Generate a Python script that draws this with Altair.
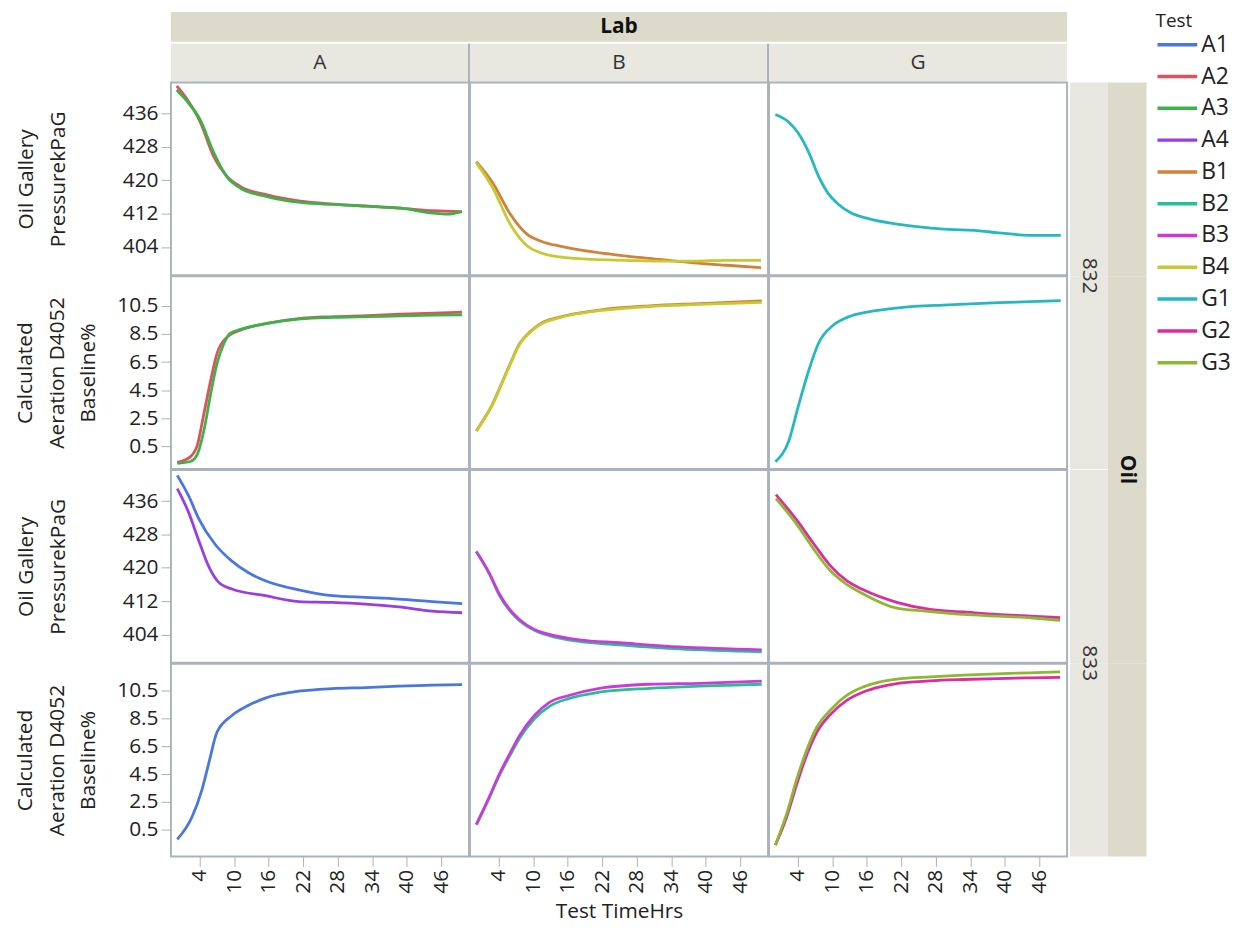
import altair as alt
import pandas as pd

# ---------------- data ----------------
TESTS = ["A1", "A2", "A3", "A4", "B1", "B2", "B3", "B4", "G1", "G2", "G3"]
COLORS = ["#4a76e0", "#e0525a", "#3cb34a", "#9b3ee0", "#d2803a", "#26c08e",
          "#cc3adc", "#c8c832", "#25b8c0", "#dd2c9e", "#8cb832"]
LABS = ["A", "B", "G"]
OILS = ["832", "833"]
TEST_LAB = {"A1": "A", "A2": "A", "A3": "A", "A4": "A", "B1": "B", "B2": "B",
            "B3": "B", "B4": "B", "G1": "G", "G2": "G", "G3": "G"}
TEST_OIL = {"A2": "832", "A3": "832", "B1": "832", "B4": "832", "G1": "832",
            "A1": "833", "A4": "833", "B2": "833", "B3": "833", "G2": "833", "G3": "833"}

X_TICKS = [4, 10, 16, 22, 28, 34, 40, 46]
P_TICKS = [404, 412, 420, 428, 436]
A_TICKS = [0.5, 2.5, 4.5, 6.5, 8.5, 10.5]

# Oil Gallery Pressure kPaG
A2_P_T = [0.0, 1.8, 4.1, 6.4, 8.8, 11.1, 15.7, 21.5, 27.3, 33.1, 38.9, 44.7, 49.6]
A2_P_V = [442.7, 439.5, 434.0, 425.8, 420.9, 418.5, 416.5, 415.0, 414.3, 413.8, 413.3, 412.7, 412.5]
A3_P_T = [0.0, 1.8, 4.1, 6.4, 8.8, 11.1, 15.7, 21.5, 27.3, 33.1, 38.9, 44.7, 47.0, 49.6]
A3_P_V = [441.7, 439.0, 434.5, 426.8, 420.7, 418.1, 416.1, 414.7, 414.2, 413.8, 413.3, 412.1, 411.9, 412.5]
B1_P_T = [0.1, 3.0, 5.9, 8.8, 11.7, 14.6, 20.4, 26.2, 32.0, 37.8, 43.6, 49.6]
B1_P_V = [424.5, 419.3, 412.1, 407.2, 405.2, 404.2, 402.8, 401.8, 401.0, 400.2, 399.6, 399.0]
B4_P_T = [0.1, 3.0, 5.9, 8.8, 11.7, 14.6, 20.4, 26.2, 32.0, 37.8, 43.6, 49.6]
B4_P_V = [424.2, 418.1, 409.7, 404.4, 402.4, 401.6, 401.0, 400.8, 400.6, 400.6, 400.8, 400.8]
G1_P_T = [0.1, 2.4, 4.1, 5.9, 7.6, 9.3, 11.1, 13.2, 16.3, 21.5, 25.9, 30.2, 34.6, 38.9, 44.1, 49.7]
G1_P_V = [435.8, 434.0, 431.3, 426.7, 421.0, 416.8, 414.2, 412.2, 410.8, 409.4, 408.7, 408.2, 408.0, 407.4, 406.8, 406.8]
A1_P_T = [0.1, 2.1, 3.8, 6.7, 9.6, 12.5, 15.4, 21.2, 27.0, 32.8, 38.6, 44.4, 49.6]
A1_P_V = [442.2, 437.2, 431.9, 425.6, 421.6, 418.8, 416.9, 414.7, 413.3, 412.9, 412.5, 411.9, 411.4]
A4_P_T = [0.1, 2.1, 3.8, 5.6, 7.3, 9.6, 15.4, 21.2, 27.0, 32.8, 38.6, 44.4, 49.6]
A4_P_V = [439.0, 433.2, 426.7, 420.2, 416.5, 414.9, 413.3, 411.9, 411.7, 411.3, 410.6, 409.6, 409.2]
B2_P_T = [0.1, 2.4, 4.1, 5.9, 7.6, 10.2, 12.8, 18.0, 25.0, 35.4, 49.7]
B2_P_V = [423.9, 418.4, 413.4, 409.7, 407.3, 405.0, 403.7, 402.3, 401.5, 400.5, 399.8]
B3_P_T = [0.1, 2.4, 4.1, 5.9, 7.6, 10.2, 12.8, 18.0, 25.0, 35.4, 49.7]
B3_P_V = [423.9, 418.6, 413.7, 410.0, 407.6, 405.2, 404.0, 402.7, 402.0, 401.0, 400.3]
G2_P_T = [0.2, 3.8, 6.7, 9.6, 12.5, 15.4, 21.2, 27.0, 32.8, 38.6, 44.4, 49.6]
G2_P_V = [437.6, 431.5, 425.9, 420.6, 416.9, 414.7, 411.7, 410.0, 409.4, 408.8, 408.4, 408.0]
G3_P_T = [0.2, 3.8, 6.7, 9.6, 12.5, 15.4, 21.2, 27.0, 32.8, 38.6, 44.4, 49.6]
G3_P_V = [436.6, 430.5, 424.6, 419.4, 416.0, 413.7, 410.3, 409.5, 408.8, 408.4, 408.0, 407.4]

# Calculated Aeration D4052 Baseline%
A2_A_T = [0.1, 2.4, 3.6, 4.7, 5.9, 7.0, 8.8, 11.1, 15.7, 21.5, 27.3, 33.1, 38.9, 44.7, 49.6]
A2_A_V = [-0.63, -0.22, 0.62, 2.78, 5.18, 7.1, 8.29, 8.77, 9.25, 9.61, 9.73, 9.80, 9.90, 9.97, 10.05]
A3_A_T = [0.1, 2.4, 3.6, 4.7, 5.9, 7.0, 8.2, 9.3, 11.1, 15.7, 21.5, 27.3, 33.1, 38.9, 44.7, 49.6]
A3_A_V = [-0.70, -0.57, -0.05, 1.58, 4.22, 6.38, 7.82, 8.54, 8.82, 9.25, 9.57, 9.68, 9.73, 9.78, 9.83, 9.85]
B1_A_T = [0.1, 1.5, 2.9, 4.1, 5.9, 7.6, 9.3, 11.1, 14.6, 21.5, 30.2, 38.9, 49.7]
B1_A_V = [1.6, 2.5, 3.5, 4.6, 6.3, 7.8, 8.6, 9.2, 9.7, 10.2, 10.5, 10.66, 10.84]
B4_A_T = [0.1, 1.5, 2.9, 4.1, 5.9, 7.6, 9.3, 11.1, 14.6, 21.5, 30.2, 38.9, 49.7]
B4_A_V = [1.6, 2.45, 3.45, 4.55, 6.25, 7.75, 8.55, 9.15, 9.65, 10.15, 10.45, 10.6, 10.74]
G1_A_T = [0.1, 2.4, 4.1, 5.9, 7.6, 10.2, 12.8, 16.3, 21.5, 30.2, 38.9, 49.7]
G1_A_V = [-0.58, 0.86, 3.38, 5.9, 7.84, 9.13, 9.71, 10.07, 10.36, 10.57, 10.72, 10.86]
A1_A_T = [0.1, 2.7, 4.4, 5.6, 7.0, 9.6, 12.5, 15.4, 21.2, 27.0, 32.8, 38.6, 44.4, 49.6]
A1_A_V = [-0.18, 1.46, 3.39, 5.32, 7.49, 8.69, 9.42, 9.94, 10.43, 10.62, 10.69, 10.79, 10.86, 10.91]
B2_A_T = [0.1, 2.4, 4.1, 5.9, 7.6, 10.2, 12.8, 16.3, 21.5, 30.2, 38.9, 49.7]
B2_A_V = [0.88, 2.85, 4.4, 5.8, 7.05, 8.45, 9.35, 9.92, 10.36, 10.64, 10.79, 10.93]
B3_A_T = [0.1, 2.4, 4.1, 5.9, 7.6, 10.2, 12.8, 16.3, 21.5, 30.2, 38.9, 49.7]
B3_A_V = [0.88, 2.9, 4.5, 5.94, 7.25, 8.69, 9.63, 10.14, 10.64, 10.93, 11.0, 11.15]
G2_A_T = [0.1, 2.1, 3.8, 5.6, 7.3, 9.6, 12.5, 15.4, 18.3, 21.2, 27.0, 32.8, 38.6, 44.4, 49.6]
G2_A_V = [-0.59, 1.46, 3.75, 5.92, 7.49, 8.74, 9.78, 10.38, 10.74, 10.98, 11.17, 11.27, 11.34, 11.39, 11.42]
G3_A_T = [0.1, 2.1, 3.8, 5.6, 7.3, 9.6, 12.5, 15.4, 18.3, 21.2, 27.0, 32.8, 38.6, 44.4, 49.6]
G3_A_V = [-0.59, 1.70, 4.11, 6.28, 7.85, 9.05, 10.14, 10.74, 11.1, 11.3, 11.46, 11.58, 11.68, 11.75, 11.82]

PRESSURE = {"A1": (A1_P_T, A1_P_V), "A2": (A2_P_T, A2_P_V), "A3": (A3_P_T, A3_P_V),
            "A4": (A4_P_T, A4_P_V), "B1": (B1_P_T, B1_P_V), "B2": (B2_P_T, B2_P_V),
            "B3": (B3_P_T, B3_P_V), "B4": (B4_P_T, B4_P_V), "G1": (G1_P_T, G1_P_V),
            "G2": (G2_P_T, G2_P_V), "G3": (G3_P_T, G3_P_V)}
AERATION = {"A1": (A1_A_T, A1_A_V), "A2": (A2_A_T, A2_A_V), "A3": (A3_A_T, A3_A_V),
            "B1": (B1_A_T, B1_A_V), "B2": (B2_A_T, B2_A_V),
            "B3": (B3_A_T, B3_A_V), "B4": (B4_A_T, B4_A_V), "G1": (G1_A_T, G1_A_V),
            "G2": (G2_A_T, G2_A_V), "G3": (G3_A_T, G3_A_V)}


def build(table):
    rows = []
    for test, (ts, vs) in table.items():
        for t, v in zip(ts, vs):
            rows.append({"Test": test, "Lab": TEST_LAB[test], "Oil": TEST_OIL[test],
                         "Time": t, "Value": v})
    return pd.DataFrame(rows)


press_df = build(PRESSURE)
aer_df = build(AERATION)

# ---------------- styling ----------------
W, H = 300, 194
HDR_H = 70
STRIP_W = 79
SP = 1
X_DOMAIN = [-1.0, 50.8]
P_DOMAIN = [397.2, 443.5]
A_DOMAIN = {"832": [-1.1, 12.6], "833": [-1.4, 12.4]}
LAB_BAND = "#dcdacb"
COL_BAND = "#e8e8e0"
STRIP_LIGHT = "#e7e7df"
BORDER = "#aab3bc"
TXT = "#222222"
ONE = pd.DataFrame({"k": [0]})
NOVIEW = alt.ViewBackground(stroke="transparent")

color_scale = alt.Scale(domain=TESTS, range=COLORS)
legend = alt.Legend(title="Test", orient="right", symbolType="stroke", symbolSize=1600,
                    symbolStrokeWidth=3.5, labelFontSize=23, titleFontSize=19,
                    titleFontWeight="normal", clipHeight=28, rowPadding=4, offset=8,
                    labelOffset=2, labelColor=TXT, titleColor=TXT, titlePadding=0)


def panel(oil, lab, measure, left, bottom):
    src = press_df if measure == "P" else aer_df
    d = src[(src["Oil"] == oil) & (src["Lab"] == lab)]
    if bottom:
        x_axis = alt.Axis(values=X_TICKS, labelAngle=270,
                          title="Test TimeHrs" if lab == "B" else "",
                          titlePadding=7, labelPadding=3)
    else:
        x_axis = None
    if left:
        if measure == "P":
            y_axis = alt.Axis(values=P_TICKS, title=["Oil Gallery", "PressurekPaG"],
                              titlePadding=54)
        else:
            y_axis = alt.Axis(values=A_TICKS, format=".1f",
                              title=["Calculated", "Aeration D4052", "Baseline%"],
                              titlePadding=18)
    else:
        y_axis = None
    ydom = P_DOMAIN if measure == "P" else A_DOMAIN[oil]
    return alt.Chart(d).mark_line(interpolate="monotone", strokeWidth=2.8).encode(
        x=alt.X("Time:Q", scale=alt.Scale(domain=X_DOMAIN, nice=False, zero=False), axis=x_axis),
        y=alt.Y("Value:Q", scale=alt.Scale(domain=ydom, nice=False, zero=False), axis=y_axis),
        color=alt.Color("Test:N", scale=color_scale, legend=legend),
        detail="Test:N",
    ).properties(width=W, height=H)


def header(lab):
    base = alt.Chart(ONE)
    layers = [
        base.mark_rect(color=LAB_BAND).encode(
            x=alt.value(0), x2=alt.value(W + SP if lab != "G" else W),
            y=alt.value(0), y2=alt.value(30)),
        base.mark_rect(color=COL_BAND).encode(
            x=alt.value(0), x2=alt.value(W), y=alt.value(32), y2=alt.value(HDR_H)),
    ]
    if lab != "G":
        layers.append(base.mark_rect(color=BORDER).encode(
            x=alt.value(W - 1), x2=alt.value(W + 2), y=alt.value(32), y2=alt.value(HDR_H + 1)))
    if lab == "B":
        layers.append(base.mark_text(fontSize=21, fontWeight="bold", color="#111111").encode(
            x=alt.value(W / 2), y=alt.value(15), text=alt.value("Lab")))
    layers.append(base.mark_text(fontSize=21, color="#333333").encode(
        x=alt.value(W / 2), y=alt.value(51), text=alt.value(lab)))
    return alt.layer(*layers).properties(width=W, height=HDR_H, view=NOVIEW)


def blank():
    return alt.Chart(ONE).mark_rect(opacity=0).encode(
        x=alt.value(0), x2=alt.value(1), y=alt.value(0), y2=alt.value(1)
    ).properties(width=STRIP_W, height=HDR_H, view=NOVIEW)


def strip(i):
    base = alt.Chart(ONE)
    light_y2 = H + SP if i in (0, 2) else H
    dark_y2 = H + SP if i < 3 else H
    layers = [
        base.mark_rect(color=STRIP_LIGHT).encode(
            x=alt.value(2), x2=alt.value(40), y=alt.value(0), y2=alt.value(light_y2)),
        base.mark_rect(color=LAB_BAND).encode(
            x=alt.value(40), x2=alt.value(STRIP_W), y=alt.value(0), y2=alt.value(dark_y2)),
    ]
    # labels sit on the boundary with the row above; drawn in the lower cell so they stay on top
    if i == 1 or i == 3:
        layers.append(base.mark_text(fontSize=21, angle=90, color="#333333").encode(
            x=alt.value(21), y=alt.value(-SP / 2), text=alt.value(OILS[i // 2])))
    if i == 2:
        layers.append(base.mark_text(fontSize=21, angle=90, fontWeight="bold",
                                     color="#111111").encode(
            x=alt.value(59.5), y=alt.value(-SP / 2), text=alt.value("Oil")))
    return alt.layer(*layers).properties(width=STRIP_W, height=H, view=NOVIEW)


cells = [header("A"), header("B"), header("G"), blank()]
row_specs = [("832", "P"), ("832", "A"), ("833", "P"), ("833", "A")]
for i, (oil, meas) in enumerate(row_specs):
    for j, lab in enumerate(LABS):
        cells.append(panel(oil, lab, meas, left=(j == 0), bottom=(i == 3)))
    cells.append(strip(i))

chart = alt.concat(*cells, columns=4, spacing=SP, bounds="flush").resolve_scale(
    color="shared"
).properties(
    padding={"left": 5, "top": 0, "right": 2, "bottom": 0}
).configure(
    font="Open Sans", background="white"
).configure_view(
    stroke=BORDER, strokeWidth=2
).configure_axis(
    grid=False, domain=False, tickColor="#a9b1b9", tickSize=10, tickWidth=1,
    labelFontSize=21, labelColor=TXT, titleFontSize=21, titleFontWeight="normal",
    titleColor=TXT, titleLineHeight=32, labelPadding=3
)

chart.save("out.html", embed_options={"renderer": "svg", "actions": False})
